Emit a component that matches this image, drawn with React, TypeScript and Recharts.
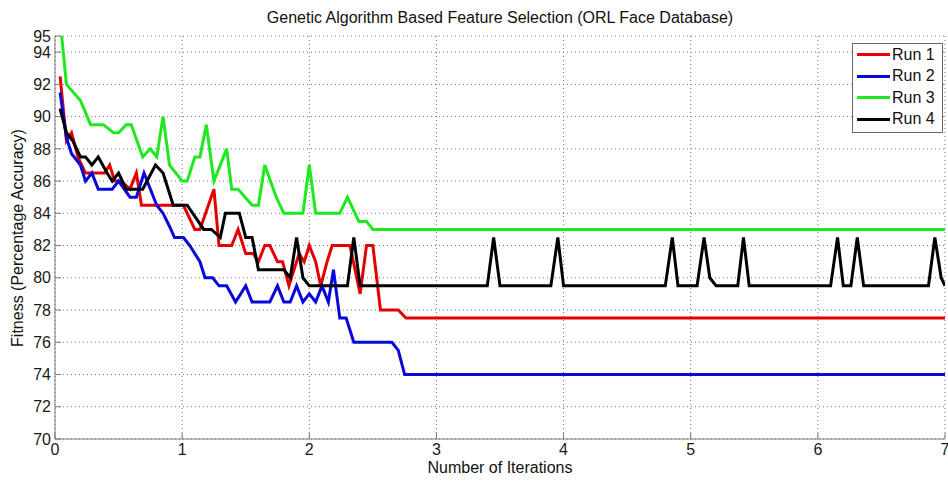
import { CartesianGrid, Legend, Line, LineChart, XAxis, YAxis } from "recharts";

const FONT = '"Liberation Sans", Arial, Helvetica, sans-serif';

const iterationTicks = [0, 1, 2, 3, 4, 5, 6, 7];
const fitnessTicks = [70, 72, 74, 76, 78, 80, 82, 84, 86, 88, 90, 92, 94, 95];

// [iteration, fitness] pairs
const run1: [number, number][] = [
  [0.04, 92.5], [0.09, 88.5], [0.13, 89], [0.18, 87.5], [0.24, 86.5], [0.39, 86.5],
  [0.43, 87], [0.47, 86], [0.52, 86], [0.59, 85.5], [0.64, 86.5], [0.68, 84.5],
  [1.01, 84.5], [1.1, 83], [1.14, 83], [1.25, 85.5], [1.29, 82], [1.39, 82],
  [1.44, 83], [1.5, 81.5], [1.56, 81.5], [1.6, 81], [1.65, 82], [1.69, 82],
  [1.75, 81], [1.79, 81], [1.84, 79.5], [1.92, 81.5], [1.96, 81], [2.0, 82],
  [2.05, 81], [2.09, 79.5], [2.14, 81], [2.18, 82], [2.32, 82], [2.4, 79],
  [2.45, 82], [2.5, 82], [2.56, 78], [2.7, 78], [2.76, 77.5], [7, 77.5]
];

const run2: [number, number][] = [
  [0.04, 91.5], [0.09, 88.7], [0.13, 87.7], [0.2, 87], [0.24, 86], [0.29, 86.5],
  [0.34, 85.5], [0.45, 85.5], [0.5, 86], [0.59, 85], [0.64, 85], [0.7, 86.5],
  [0.8, 84.5], [0.85, 84], [0.9, 83.2], [0.94, 82.5], [1.01, 82.5], [1.06, 82],
  [1.14, 81], [1.18, 80], [1.24, 80], [1.29, 79.5], [1.35, 79.5], [1.42, 78.5],
  [1.5, 79.5], [1.55, 78.5], [1.69, 78.5], [1.75, 79.5], [1.8, 78.5], [1.85, 78.5],
  [1.9, 79.5], [1.95, 78.5], [2.0, 79], [2.05, 78.5], [2.1, 79.5], [2.15, 78.5],
  [2.19, 80.5], [2.24, 77.5], [2.29, 77.5], [2.35, 76], [2.65, 76], [2.7, 75.5],
  [2.75, 74], [7, 74]
];

const run3: [number, number][] = [
  [0.04, 96], [0.09, 92], [0.2, 91], [0.28, 89.5], [0.38, 89.5], [0.46, 89],
  [0.5, 89], [0.56, 89.5], [0.6, 89.5], [0.69, 87.5], [0.75, 88], [0.8, 87.5],
  [0.85, 90], [0.9, 87], [1.0, 86], [1.04, 86], [1.1, 87.5], [1.14, 87.5],
  [1.19, 89.5], [1.25, 86], [1.35, 88], [1.39, 85.5], [1.44, 85.5], [1.55, 84.5],
  [1.6, 84.5], [1.65, 87], [1.74, 85], [1.8, 84], [1.95, 84], [2.0, 87],
  [2.05, 84], [2.24, 84], [2.3, 85], [2.39, 83.5], [2.45, 83.5], [2.5, 83], [7, 83]
];

const run4: [number, number][] = [
  [0.04, 90.5], [0.09, 89], [0.14, 88.5], [0.2, 87.5], [0.24, 87.5], [0.29, 87],
  [0.34, 87.5], [0.41, 86.5], [0.45, 86], [0.5, 86.5], [0.56, 85.5], [0.69, 85.5],
  [0.79, 87], [0.85, 86.5], [0.93, 84.5], [1.04, 84.5], [1.17, 83], [1.23, 83],
  [1.3, 82.5], [1.34, 84], [1.45, 84], [1.5, 82.5], [1.55, 82.5], [1.6, 80.5],
  [1.8, 80.5], [1.85, 80], [1.9, 82.5], [1.95, 80], [2.0, 79.5], [2.3, 79.5],
  [2.35, 82.5], [2.4, 79.5], [3.4, 79.5], [3.45, 82.5], [3.5, 79.5], [3.9, 79.5],
  [3.955, 82.5], [4.0, 79.5], [4.8, 79.5], [4.855, 82.5], [4.9, 79.5], [5.05, 79.5],
  [5.105, 82.5], [5.15, 80], [5.2, 79.5], [5.37, 79.5], [5.415, 82.5], [5.46, 79.5],
  [6.1, 79.5], [6.155, 82.5], [6.2, 79.5], [6.26, 79.5], [6.31, 82.5], [6.36, 79.5],
  [6.87, 79.5], [6.92, 82.5], [6.97, 80], [7, 79.5]
];

const toPoints = (run: [number, number][]) =>
  run.map(([iteration, fitness]) => ({ iteration, fitness }));

const series = [
  { name: "Run 1", color: "#e50000", data: toPoints(run1) },
  { name: "Run 2", color: "#0808d8", data: toPoints(run2) },
  { name: "Run 3", color: "#1ee81e", data: toPoints(run3) },
  { name: "Run 4", color: "#000000", data: toPoints(run4) }
];

const tickStyle = { fill: "#1a1a1a", fontSize: 16, fontFamily: FONT };
const axisColor = "#7a7a7a";

function LegendBox({ payload }: any) {
  return (
    <div
      style={{
        border: "1px solid #6a6a6a",
        background: "#fff",
        padding: "0 4px 2px 4px",
        fontFamily: FONT,
        fontSize: 16,
        color: "#111"
      }}
    >
      {(payload || []).map((p: any) => (
        <div key={p.value} style={{ display: "flex", alignItems: "center", height: 21.5 }}>
          <span style={{ width: 33, height: 3, background: p.color, marginRight: 2 }} />
          <span>{p.value}</span>
        </div>
      ))}
    </div>
  );
}

export default function App() {
  return (
    <div style={{ position: "absolute", left: 0, top: 0, width: 948, height: 483, background: "#fff" }}>
      <div
        style={{
          position: "absolute",
          left: 0,
          width: 1000,
          top: 9,
          textAlign: "center",
          fontFamily: FONT,
          fontSize: 16,
          color: "#111",
          lineHeight: "18px"
        }}
      >
        Genetic Algorithm Based Feature Selection (ORL Face Database)
      </div>
      <div
        style={{
          position: "absolute",
          left: 0,
          width: 1000,
          top: 459,
          textAlign: "center",
          fontFamily: FONT,
          fontSize: 16,
          color: "#111",
          lineHeight: "18px"
        }}
      >
        Number of Iterations
      </div>
      <div
        style={{
          position: "absolute",
          left: 18,
          top: 238,
          transform: "translate(-50%, -50%) rotate(-90deg)",
          whiteSpace: "nowrap",
          fontFamily: FONT,
          fontSize: 16,
          color: "#111",
          lineHeight: "18px"
        }}
      >
        Fitness (Percentage Accuracy)
      </div>
      <LineChart width={948} height={483} margin={{ top: 36, right: 3, bottom: 0, left: 0 }}>
        <CartesianGrid stroke="#777" strokeDasharray="1 3" />
        <XAxis
          dataKey="iteration"
          type="number"
          domain={[0, 7]}
          ticks={iterationTicks}
          interval={0}
          allowDataOverflow
          height={44}
          stroke={axisColor}
          tickSize={-6}
          tickMargin={11}
          tick={tickStyle}
        />
        <XAxis
          xAxisId="top"
          orientation="top"
          type="number"
          domain={[0, 7]}
          ticks={iterationTicks}
          interval={0}
          height={0}
          stroke={axisColor}
          tickSize={-6}
          tick={false}
        />
        <YAxis
          type="number"
          domain={[70, 95]}
          ticks={fitnessTicks}
          interval={0}
          allowDataOverflow
          width={55}
          stroke={axisColor}
          tickSize={-6}
          tickMargin={10}
          tick={tickStyle}
        />
        <YAxis
          yAxisId="right"
          orientation="right"
          type="number"
          domain={[70, 95]}
          ticks={fitnessTicks}
          interval={0}
          width={0}
          stroke={axisColor}
          tickSize={-6}
          tick={false}
        />
        {series.map((s) => (
          <Line
            key={s.name}
            data={s.data}
            dataKey="fitness"
            name={s.name}
            stroke={s.color}
            strokeWidth={3}
            dot={false}
            activeDot={false}
            type="linear"
            isAnimationActive={false}
          />
        ))}
        <Legend
          layout="horizontal"
          verticalAlign="middle"
          align="center"
          wrapperStyle={{ left: 852, top: 43, width: 91 }}
          content={<LegendBox />}
        />
      </LineChart>
    </div>
  );
}
